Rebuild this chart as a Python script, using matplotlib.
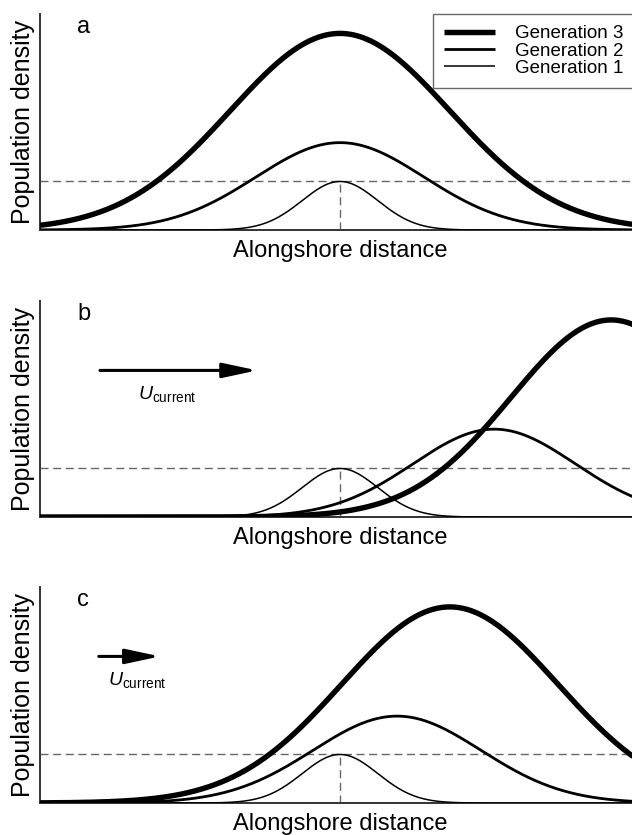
import numpy as np
import matplotlib
matplotlib.use("Agg")
import matplotlib.pyplot as plt

plt.rcParams['font.family'] = ['Liberation Sans', 'DejaVu Sans']
plt.rcParams['mathtext.fontset'] = 'custom'
plt.rcParams['mathtext.rm'] = 'Liberation Sans'
plt.rcParams['mathtext.it'] = 'Liberation Sans:italic'

# ---- data (x: alongshore distance, arbitrary units; y: density, Gen1 peak = 1)
panels = ["a", "b", "c"]
generations = ["Generation 1", "Generation 2", "Generation 3"]
# peak heights per panel [gen1, gen2, gen3]
peak_a = [1.0, 1.80, 4.05]
peak_b = [1.0, 1.81, 4.06]
peak_c = [1.0, 1.79, 4.04]
# peak positions per panel
center_a = [0.0, 0.0, 0.0]
center_b = [0.0, 2.57, 4.52]
center_c = [0.0, 0.95, 1.83]
# spread (standard deviation) per panel
width_a = [0.63, 1.40, 1.83]
width_b = [0.63, 1.35, 1.67]
width_c = [0.63, 1.40, 1.80]
# current arrow (start, end) per panel, None for panel a
current_a = None
current_b = (-4.0, -1.38)
current_c = (-4.02, -3.0)

peaks = [peak_a, peak_b, peak_c]
centers = [center_a, center_b, center_c]
widths = [width_a, width_b, width_c]
currents = [current_a, current_b, current_c]

lws = [1.1, 2.0, 3.9]

fig = plt.figure(figsize=(6.32, 8.35), dpi=100)
W, H = 632.0, 835.0
left_px, width_px, h_px = 40.0, 600.0, 216.0
bottoms_px = [230.0, 517.0, 803.0]

x = np.linspace(-5, 5, 2001)
spine_col = '#333333'
dash_col = '#666666'

for i, p in enumerate(panels):
    ax = fig.add_axes([left_px / W, 1 - bottoms_px[i] / H, width_px / W, h_px / H])
    ax.set_xlim(-5, 5)
    ax.set_ylim(0, 4.45)
    for s in ['top', 'right']:
        ax.spines[s].set_visible(False)
    for s in ['left', 'bottom']:
        ax.spines[s].set_color(spine_col)
        ax.spines[s].set_linewidth(1.4)
    ax.set_xticks([])
    ax.set_yticks([])

    # reference dashed lines at generation-1 peak
    ax.axhline(peaks[i][0], color=dash_col, lw=1.0, dashes=(5.8, 3.3), zorder=1)
    ax.vlines(centers[i][0], 0, peaks[i][0], color=dash_col, lw=1.0,
              linestyles=(0, (5.8, 3.3)), zorder=1)

    handles = []
    for g in range(3):
        y = peaks[i][g] * np.exp(-0.5 * ((x - centers[i][g]) / widths[i][g]) ** 2)
        ln, = ax.plot(x, y, color='black', lw=lws[g], solid_capstyle='butt',
                      label=generations[g], zorder=3 + g, clip_on=True)
        handles.append(ln)

    ax.set_xlabel('Alongshore distance', fontsize=17, va='center')
    ax.xaxis.set_label_coords(0.5, -21 / h_px)
    ax.set_ylabel('Population density', fontsize=18, va='center')
    ax.yaxis.set_label_coords(-17 / width_px, 0.5)

    ax.text(-4.38, 4.05, p, fontsize=17, ha='left', va='baseline')

    if currents[i] is not None:
        x0, x1 = currents[i]
        ax.annotate('', xy=(x1, 3.02), xytext=(x0, 3.02),
                    arrowprops=dict(arrowstyle='-|>,head_length=2.1,head_width=0.45',
                                    lw=2.2, color='black', shrinkA=0, shrinkB=0))
        ax.text(x0 + (0.63 if i == 1 else 0.15), 2.54, r'$U_{\mathrm{current}}$',
                fontsize=14, ha='left', va='center')

    if i == 0:
        leg = ax.legend(handles[::-1], [h.get_label() for h in handles[::-1]],
                        loc='upper left', bbox_to_anchor=((433 - left_px) / width_px, 1.0),
                        borderaxespad=0, fontsize=13.5, frameon=True, fancybox=False,
                        handlelength=2.7, handletextpad=1.05, borderpad=0.6,
                        labelspacing=0.0)
        leg.get_frame().set_edgecolor('#444444')
        leg.get_frame().set_linewidth(1.0)
        leg.set_zorder(10)

fig.savefig('out.png', dpi=100)
